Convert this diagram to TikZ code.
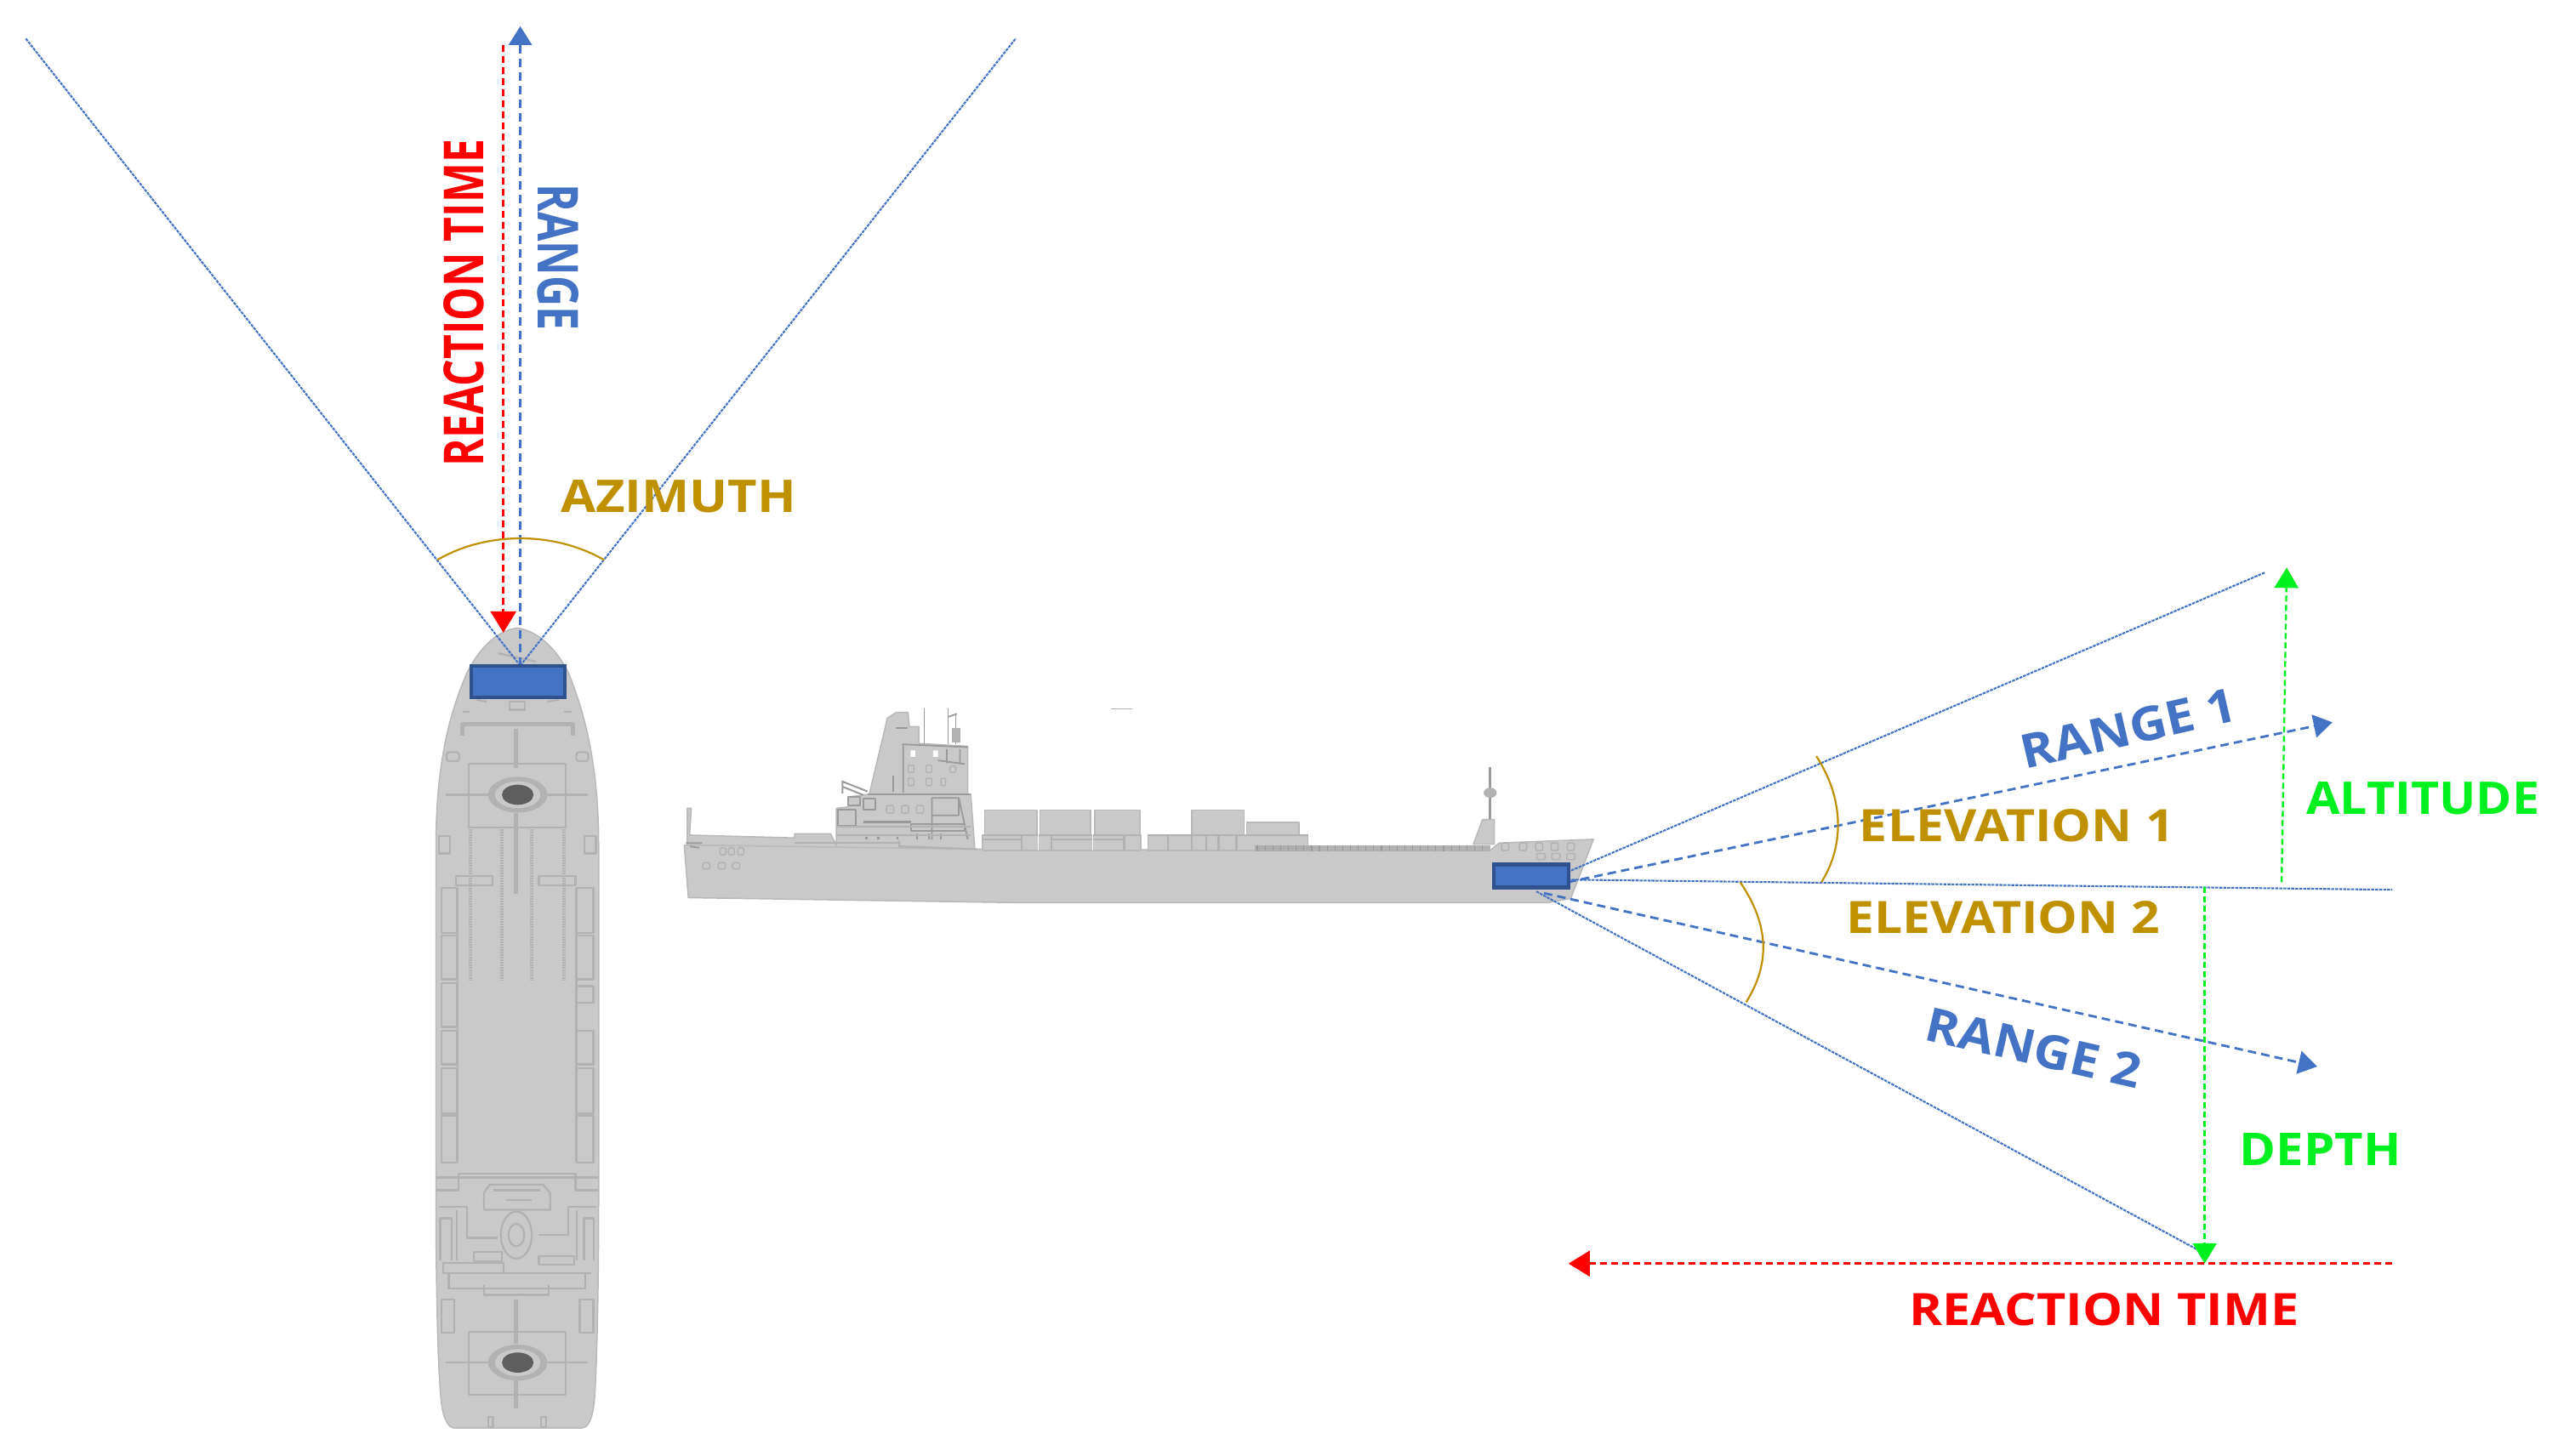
\documentclass[tikz,border=0pt]{standalone}
\usepackage{graphicx}
\usepackage{fontspec}
\usetikzlibrary{arrows.meta}
\newfontfamily\lab{Open Sans}
\definecolor{bluec}{HTML}{4472C4}
\definecolor{blueb}{HTML}{2F528F}
\definecolor{goldc}{HTML}{BF9000}
\definecolor{greenc}{HTML}{00F020}
\definecolor{redc}{HTML}{FF0000}
\definecolor{hullc}{HTML}{C9C9C9}
\definecolor{detc}{HTML}{B2B2B2}
\definecolor{darkc}{HTML}{9A9A9A}
\definecolor{funnelc}{HTML}{5E5E5E}
\newcommand{\fit}[3]{\resizebox{#1pt}{#2pt}{\lab\bfseries\fontsize{50}{54}\selectfont #3}}
\tikzset{
  hull/.style={fill=hullc,draw=hullc!92!black,line width=1.5pt,line join=round},
  det/.style={draw=detc,line width=2.2pt,line join=round},
  detthick/.style={draw=detc,line width=5pt,line join=round},
  detdark/.style={draw=darkc,line width=1.8pt,line join=round},
  port/.style={draw=detc,line width=1.4pt,rounded corners=2pt},
  sensor/.style={draw=blueb,fill=bluec,line width=4.5pt,inner sep=0pt,minimum width=#1},
  fanline/.style={draw=bluec,line width=2.1pt,dash pattern=on 3.5pt off 1.2pt},
  rangeline/.style={draw=bluec,line width=2.8pt,dash pattern=on 10pt off 6pt,-{Triangle[length=22pt,width=27pt]}},
  redline/.style={draw=redc,line width=2.6pt,dash pattern=on 8pt off 5pt,-{Triangle[length=25pt,width=30pt]}},
  greenline/.style={draw=greenc,line width=2.4pt,dash pattern=on 7pt off 4pt,-{Triangle[length=24pt,width=28pt]}},
  arcline/.style={draw=goldc,line width=2.2pt},
  lbl/.style={inner sep=0pt,outer sep=0pt},
}
\begin{document}
\begin{tikzpicture}[x=1pt,y=-1pt,scale=0.9945]
\useasboundingbox[fill=white] (0,0) rectangle (3023.6,1720.5);

% ---------- top-view ship
\begin{scope}[shift={(452,683)},x=0.3333pt,y=-0.6614pt]
  \path[hull] (478,90) .. controls (400,95) and (340,130) .. (300,170)
     .. controls (240,240) and (190,330) .. (190,480) -- (190,1100)
     .. controls (190,1250) and (195,1400) .. (208,1470)
     .. controls (215,1505) and (235,1520) .. (255,1520) -- (705,1520)
     .. controls (730,1520) and (745,1505) .. (752,1470)
     .. controls (762,1400) and (767,1250) .. (767,1100) -- (767,480)
     .. controls (767,330) and (715,240) .. (660,170)
     .. controls (620,130) and (555,95) .. (478,90) -- cycle;
  % bow details
  \draw[det] (410,135) -- (545,150);
  \draw[det] (450,222) rectangle (505,236);
  \draw[det] (335,218) -- (370,222) (585,222) -- (625,218);
  \draw[det] (285,240) -- (310,240) (645,240) -- (670,240);
  \draw[detthick] (283,282) -- (283,262) -- (676,262) -- (676,282);
  \draw[det,rounded corners=3pt] (228,312) rectangle (272,328) (688,312) rectangle (730,328);
  % funnels and frames
  \foreach \yy in {388,1403}{
    \draw[det] (305,\yy-55) rectangle (650,\yy+58);
    \draw[det] (225,\yy) -- (730,\yy);
    \fill[detc] (480,\yy) ellipse (105 and 32);
    \fill[hullc] (480,\yy) ellipse (80 and 24);
    \fill[funnelc] (480,\yy) ellipse (56 and 18);
  }
  \draw[detthick,line width=5pt] (473,270) -- (473,340) (473,420) -- (473,565);
  \draw[detthick,line width=5pt] (473,1290) -- (473,1370) (473,1435) -- (473,1485);
  \draw[det] (200,462) rectangle (240,493) (716,462) rectangle (757,493);
  \draw[det] (262,533) rectangle (390,550) (555,533) rectangle (685,550);
  \foreach \xx in {312,425,528,645}{
    \draw[detc,line width=4pt,dash pattern=on 1.5pt off 1.5pt] (\xx,450) -- (\xx,720);
  }
  % side bays
  \foreach \aa/\bb in {555/635,640/718,725/803,810/870,877/958,962/1045}{
    \draw[det] (210,\aa) rectangle (265,\bb);
  }
  \foreach \aa/\bb in {555/635,640/718,730/760,810/870,877/958,962/1045}{
    \draw[det] (690,\aa) rectangle (748,\bb);
  }
  \draw[det] (268,555) -- (268,1045) (688,555) -- (688,1045);
  % stern structure
  \draw[det] (190,1072) -- (765,1072) (190,1095) -- (270,1095) -- (270,1065) -- (685,1065) -- (685,1095) -- (765,1095);
  \draw[det] (360,1130) -- (360,1100) -- (380,1085) -- (570,1085) -- (595,1100) -- (595,1130) -- (360,1130);
  \draw[det] (395,1095) -- (560,1095) (440,1112) -- (530,1112);
  \draw[det] (475,1175) ellipse (55 and 42) (475,1175) ellipse (28 and 20);
  \draw[det] (200,1125) -- (300,1125) -- (300,1180) -- (410,1180) (760,1125) -- (660,1125) -- (660,1175) -- (555,1175);
  \draw[det] (205,1220) -- (205,1145) -- (245,1145) -- (245,1220) (750,1220) -- (750,1145) -- (715,1145) -- (715,1220);
  \draw[det] (265,1130) -- (265,1220) (690,1130) -- (690,1220);
  \draw[det] (215,1225) rectangle (430,1243) (555,1213) rectangle (680,1228);
  \draw[det] (325,1205) rectangle (425,1222);
  \draw[det] (235,1245) -- (235,1270) -- (720,1270) -- (720,1245) (215,1243) -- (740,1243);
  \draw[det] (360,1265) -- (360,1282) -- (590,1282) -- (590,1265);
  \draw[det] (210,1290) rectangle (255,1350) (700,1290) rectangle (748,1350);
  \draw[det] (375,1500) rectangle (392,1518) (562,1500) rectangle (580,1518);
\end{scope}

% ---------- side-view ship
\begin{scope}[shift={(784,804)},x=0.7057pt,y=-0.3333pt]
  % superstructure
  \path[hull] (345,405) -- (372,165) -- (375,135) -- (390,115) -- (410,115) -- (412,165) -- (428,165) -- (428,225) -- (510,235) -- (510,405) -- (515,405) -- (522,605) -- (290,605) -- (290,455) -- (310,450) -- (310,415) -- cycle;
  \path[hull] (40,455) -- (47,455) -- (44,550) -- (220,560) -- (220,545) -- (280,545) -- (295,605) -- (40,605) -- cycle;
  % main hull
  \path[hull] (35,585) -- (525,600) -- (1385,605) -- (1400,578) -- (1558,565) -- (1520,775) -- (1480,790) -- (600,790) -- (42,772) -- cycle;
  % hatch covers
  \path[hull] (538,462) rectangle (626,550) (631,462) rectangle (716,550) (723,462) rectangle (798,550);
  \path[hull] (535,550) rectangle (800,605);
  \path[hull] (885,462) rectangle (973,550) (977,505) rectangle (1065,550);
  \path[hull] (812,550) rectangle (1080,605);
  \draw[det] (535,550) -- (800,550) (600,550) -- (600,605) (650,550) -- (650,605) (772,550) -- (772,605) (535,565) -- (600,565) (650,565) -- (772,565);
  \draw[det] (812,550) -- (1080,550) (845,550) -- (845,605) (885,550) -- (885,605) (910,550) -- (910,605) (930,550) -- (930,605) (960,550) -- (960,605);
  \draw[white,line width=1.6pt] (628,462) -- (628,605) (719,462) -- (719,605);
  % masts
  \draw[darkc,line width=1.8pt] (437,100) -- (437,228) (477,100) -- (477,228);
  \draw[darkc,line width=1.3pt] (490,120) -- (490,228);
  \draw[darkc,line width=1.8pt] (478,130) -- (492,120);
  \fill[detc] (484,170) rectangle (497,220);
  % bridge details
  \draw[detdark] (400,228) -- (510,238) (402,228) -- (402,400);
  \fill[white] (414,250) rectangle (422,272) (452,250) rectangle (460,272);
  \draw[detdark] (475,245) -- (475,295) (497,245) -- (497,295) (460,285) -- (505,298);
  \foreach \xx in {415,445}{
    \draw[port] (\xx-5,302) rectangle (\xx+5,328);
    \draw[port] (\xx-5,348) rectangle (\xx+5,375);
  }
  \draw[port] (465,348) rectangle (473,375) (480,305) rectangle (490,328);
  \draw[detdark] (385,340) -- (385,395) (342,405) -- (515,405);
  \draw[darkc,line width=2pt] (300,402) -- (300,360) -- (342,395) (300,378) -- (335,408);
  \draw[detdark] (390,170) -- (410,170);
  % lower superstructure
  \draw[detdark] (310,415) rectangle (330,445) (335,420) rectangle (355,460);
  \draw[detdark] (292,460) rectangle (322,518);
  \foreach \xx in {380,405,430}{ \draw[port] (\xx-6,445) rectangle (\xx+6,472); }
  \draw[darkc,line width=3pt] (335,505) -- (415,505);
  \draw[darkc,line width=2.5pt] (340,555) -- (340,565) (360,555) -- (360,565) (392,555) -- (392,565) (425,545) -- (425,565) (445,545) -- (445,565) (465,545) -- (465,565);
  \draw[detdark] (450,418) rectangle (495,480) (450,480) -- (450,565) (495,418) -- (510,565);
  \draw[detdark] (415,510) rectangle (505,535);
  \draw[det] (290,520) -- (515,520) (290,550) -- (515,550) (395,570) -- (395,590) -- (525,600);
  \draw[det] (220,578) -- (395,578);
  % stern rail
  \draw[detdark] (38,578) -- (65,578) (45,590) -- (60,595);
  \foreach \xx in {100,114,130}{ \draw[port] (\xx-5,595) rectangle (\xx+5,620); }
  \foreach \xx in {72,98,122}{ \draw[port] (\xx-6,648) rectangle (\xx+6,670); }
  % foredeck railing
  \fill[darkc!80!white] (990,585) rectangle (1085,607);
  \fill[detc] (1085,587) rectangle (1385,607);
  \foreach \xx in {995,1008,...,1380}{ \draw[darkc,line width=1.2pt] (\xx,585) -- (\xx,607); }
  % foremast
  \draw[darkc,line width=2.6pt] (1385,310) -- (1385,500);
  \fill[detc] (1385,400) ellipse (11 and 18);
  \path[hull] (1357,582) -- (1372,495) -- (1392,495) -- (1392,582) -- cycle;
  % bow details
  \foreach \xx in {1410,1440,1467,1493,1520}{ \draw[port] (\xx-6,578) rectangle (\xx+6,605); }
  \foreach \xx in {1470,1495,1520}{ \draw[port] (\xx-7,615) rectangle (\xx+7,637); }
  % speck
  \draw[detc,line width=1pt] (750,102) -- (785,102);
\end{scope}

% ---------- reference points
\coordinate (apex) at (615,787);
\coordinate (farL) at (30,45);
\coordinate (farR) at (1201,45);
\coordinate (rangeT) at (615,31);
\coordinate (reactS) at (595,53);
\coordinate (reactE) at (595,748);
\coordinate (upS) at (1853,1031);
\coordinate (upE) at (2677,677);
\coordinate (r1S) at (1853,1043);
\coordinate (r1E) at (2757,854);
\coordinate (hS) at (1853,1040);
\coordinate (hE) at (2828,1052);
\coordinate (r2S) at (1825,1056);
\coordinate (r2E) at (2739,1261);
\coordinate (dnS) at (1816,1054);
\coordinate (dnE) at (2602,1480);
\coordinate (altS) at (2697,1043);
\coordinate (altE) at (2703,671);
\coordinate (depS) at (2606,1049);
\coordinate (depE) at (2606,1494);
\coordinate (rtS) at (2828,1494);
\coordinate (rtE) at (1854,1494);
\coordinate (azL) at (517,662);
\coordinate (azR) at (714,662);
\coordinate (e1T) at (2147,894);
\coordinate (e1B) at (2153,1043);
\coordinate (e2T) at (2057,1043);
\coordinate (e2B) at (2064,1185);

% ---------- fan lines
\draw[fanline] (apex) -- (farL);
\draw[fanline] (apex) -- (farR);
\draw[rangeline] (apex) -- (rangeT);
\draw[redline] (reactS) -- (reactE);
\draw[fanline] (upS) -- (upE);
\draw[rangeline] (r1S) -- (r1E);
\draw[fanline] (hS) -- (hE);
\draw[rangeline] (r2S) -- (r2E);
\draw[fanline] (dnS) -- (dnE);
\draw[greenline] (altS) -- (altE);
\draw[greenline] (depS) -- (depE);
\draw[redline] (rtS) -- (rtE);

% ---------- angle arcs
\draw[arcline] (azL) .. controls (575,628) and (655,628) .. (azR);
\draw[arcline] (e1T) .. controls (2180,945) and (2180,1000) .. (e1B);
\draw[arcline] (e2T) .. controls (2092,1095) and (2092,1140) .. (e2B);

% ---------- sensors
\node[sensor=110pt,minimum height=37pt] (topbox) at (612.5,806) {};
\node[sensor=88pt,minimum height=27pt] (sidebox) at (1810,1035.5) {};

% ---------- labels
\node[lbl,text=redc,rotate=90] (l1) at (548,358) {\fit{384}{47}{REACTION TIME}};
\node[lbl,text=bluec,rotate=-90] (l2) at (660,304) {\fit{172}{48}{RANGE}};
\node[lbl,text=goldc] (l3) at (802,587) {\fit{277}{38}{AZIMUTH}};
\node[lbl,text=bluec,rotate=13] (l4) at (2516,861) {\fit{258}{40}{RANGE 1}};
\node[lbl,text=goldc] (l5) at (2384,976) {\fit{370}{38}{ELEVATION 1}};
\node[lbl,text=goldc] (l6) at (2368,1085) {\fit{369}{38}{ELEVATION 2}};
\node[lbl,text=greenc] (l7) at (2864,944) {\fit{274}{38}{ALTITUDE}};
\node[lbl,text=bluec,rotate=-13] (l8) at (2404,1239) {\fit{258}{40}{RANGE 2}};
\node[lbl,text=greenc] (l9) at (2743,1359) {\fit{190}{38}{DEPTH}};
\node[lbl,text=redc] (l10) at (2487,1548) {\fit{458}{38}{REACTION TIME}};
\end{tikzpicture}
\end{document}
